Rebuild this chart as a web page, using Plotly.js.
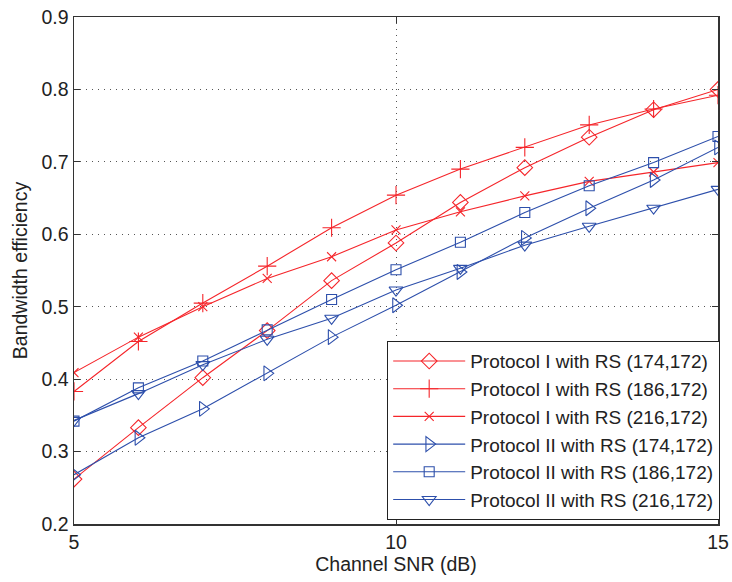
<!DOCTYPE html>
<html>
<head>
<meta charset="utf-8">
<script src="https://cdn.plot.ly/plotly-3.0.1.min.js"></script>
<style>html,body{margin:0;padding:0;background:#fff;}#chart{width:732px;height:582px;}</style>
</head>
<body>
<div id="chart"></div>
<script>
var snr = [5, 6, 7, 8, 9, 10, 11, 12, 13, 14, 15];
var p1_174 = [0.262, 0.333, 0.402, 0.467, 0.536, 0.588, 0.644, 0.692, 0.734, 0.772, 0.800];
var p1_186 = [0.383, 0.452, 0.505, 0.556, 0.609, 0.654, 0.690, 0.720, 0.751, 0.773, 0.792];
var p1_216 = [0.409, 0.458, 0.500, 0.539, 0.569, 0.606, 0.631, 0.653, 0.673, 0.686, 0.699];
var p2_174 = [0.268, 0.319, 0.359, 0.408, 0.458, 0.502, 0.548, 0.595, 0.636, 0.675, 0.720];
var p2_186 = [0.342, 0.388, 0.425, 0.468, 0.510, 0.551, 0.589, 0.630, 0.667, 0.699, 0.735];
var p2_216 = [0.343, 0.380, 0.420, 0.455, 0.484, 0.523, 0.553, 0.585, 0.611, 0.636, 0.662];
var names = [
  'Protocol I with RS (174,172)',
  'Protocol I with RS (186,172)',
  'Protocol I with RS (216,172)',
  'Protocol II with RS (174,172)',
  'Protocol II with RS (186,172)',
  'Protocol II with RS (216,172)'
];
var series = [p1_174, p1_186, p1_216, p2_174, p2_186, p2_216];
var symbols = ['diamond-open', 'cross-thin-open', 'x-thin-open', 'triangle-right-open', 'square-open', 'triangle-down-open'];
var sizes = [12, 13, 9, 13, 10, 12];
var RED = '#f5252a', BLUE = '#2d4fab';
var colors = [RED, RED, RED, BLUE, BLUE, BLUE];
var FONT = 'Arial, Liberation Sans, sans-serif';
var FS = 19.5;
var traces = series.map(function (s, i) {
  return {
    x: snr, y: s, name: names[i], type: 'scatter', mode: 'lines+markers',
    line: {color: colors[i], width: 1.1},
    marker: {symbol: symbols[i], size: sizes[i], color: colors[i], line: {color: colors[i], width: 1.1}}
  };
});
var axisCommon = {
  showline: true, linecolor: '#333', linewidth: 1.5, mirror: 'allticks',
  ticks: 'inside', ticklen: 6, tickcolor: '#333',
  showgrid: true, gridcolor: '#555', griddash: '1px,5px', gridwidth: 1,
  zeroline: false, automargin: false, tickfont: {family: FONT, size: FS, color: '#222'}
};
var layout = {
  width: 732, height: 582,
  margin: {l: 74, r: 14, t: 17, b: 58},
  paper_bgcolor: '#fff', plot_bgcolor: '#fff',
  font: {family: FONT, color: '#222', size: FS},
  xaxis: Object.assign({}, axisCommon, {
    range: [5, 15], tickvals: [5, 10, 15], ticktext: ['5', '10', '15'],
    title: {text: 'Channel SNR (dB)', font: {family: FONT, size: FS, color: '#222'}, standoff: 2}
  }),
  yaxis: Object.assign({}, axisCommon, {
    range: [0.2, 0.9], tickvals: [0.2, 0.3, 0.4, 0.5, 0.6, 0.7, 0.8, 0.9],
    ticktext: ['0.2', '0.3', '0.4', '0.5', '0.6', '0.7', '0.8', '0.9'],
    title: {text: 'Bandwidth efficiency', font: {family: FONT, size: FS, color: '#222'}, standoff: 8}
  }),
  showlegend: true,
  legend: {
    x: 0.486, y: 0.361, xanchor: 'left', yanchor: 'top',
    bgcolor: '#fff', bordercolor: '#222', borderwidth: 1.2,
    font: {family: FONT, size: 19, color: '#222'}, tracegroupgap: 0, itemwidth: 72
  }
};
Plotly.newPlot('chart', traces, layout, {displayModeBar: false, staticPlot: true});
</script>
</body>
</html>
